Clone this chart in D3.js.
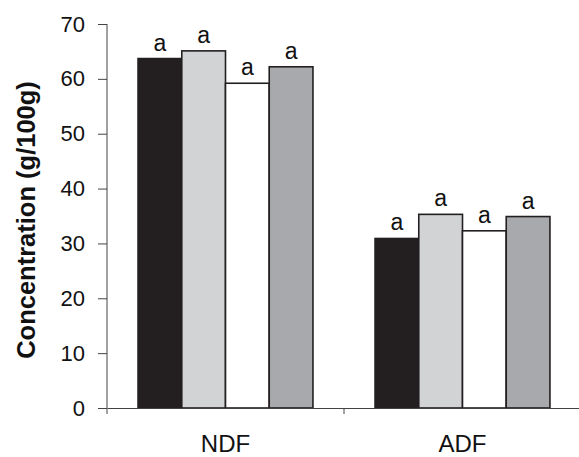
<!DOCTYPE html>
<html>
<head>
<meta charset="utf-8">
<script src="https://cdn.jsdelivr.net/npm/d3@7"></script>
<style>
  body { margin: 0; background: #fff; }
  svg { display: block; }
</style>
</head>
<body>
<div id="chart"></div>
<script>
// Data
const groups = ["NDF", "ADF"];
const treatments = ["T1", "T2", "T3", "T4"];
const ndfValues = [63.7, 65.1, 59.2, 62.2];
const adfValues = [30.9, 35.3, 32.3, 34.9];
const letters = ["a", "a", "a", "a"];
const yTicks = [0, 10, 20, 30, 40, 50, 60, 70];
const fills = ["#231f20", "#d1d3d4", "#ffffff", "#a7a9ac"];

// Configuration
const width = 579;
const height = 457;
const marginTop = 24;
const marginLeft = 107;
const plotRight = 581; // axis runs off the right edge
const baseY = 408;

const rows = groups.map((g, i) => ({
  group: g,
  values: (i === 0 ? ndfValues : adfValues).map((v, j) => ({key: treatments[j], value: v, letter: letters[j]}))
}));

const x0 = d3.scaleBand().domain(groups).range([marginLeft, plotRight]).paddingInner(0);
const x1 = d3.scaleBand().domain(treatments).range([0, x0.bandwidth()]).paddingInner(0).paddingOuter(0.71);
const y = d3.scaleLinear([0, 70], [baseY, marginTop]);
const color = d3.scaleOrdinal(treatments, fills);

const svg = d3.select("#chart").append("svg")
  .attr("width", width)
  .attr("height", height)
  .attr("viewBox", [0, 0, width, height]);

const axisColor = "#444";
const font = "Liberation Sans, Arial, sans-serif";

// Bars
const g = svg.selectAll("g.group")
  .data(rows)
  .join("g")
  .attr("class", "group")
  .attr("transform", d => `translate(${x0(d.group)},0)`);

g.selectAll("rect")
  .data(d => d.values)
  .join("rect")
  .attr("x", d => x1(d.key))
  .attr("y", d => y(d.value))
  .attr("width", x1.bandwidth())
  .attr("height", d => y(0) - y(d.value))
  .attr("fill", d => color(d.key))
  .attr("stroke", "#231f20")
  .attr("stroke-width", 1.6);

g.selectAll("text")
  .data(d => d.values)
  .join("text")
  .attr("x", d => x1(d.key) + x1.bandwidth() / 2)
  .attr("y", d => y(d.value) - 8)
  .attr("text-anchor", "middle")
  .style("font", `23px ${font}`)
  .attr("fill", "#111")
  .text(d => d.letter);

// Y axis
const yAxis = svg.append("g")
  .attr("transform", `translate(${marginLeft},0)`)
  .call(d3.axisLeft(y).tickValues(yTicks).tickSize(9).tickPadding(13).tickSizeOuter(0));
yAxis.select(".domain").remove();
yAxis.selectAll(".tick line").attr("stroke", axisColor);
yAxis.selectAll(".tick text")
  .style("font", `22px ${font}`)
  .attr("fill", "#111");
yAxis.append("line")
  .attr("x1", 0).attr("x2", 0)
  .attr("y1", y(70)).attr("y2", baseY + 6)
  .attr("stroke", axisColor);

// X axis
const xAxis = svg.append("g")
  .attr("transform", `translate(0,${baseY})`)
  .call(d3.axisBottom(x0).tickSize(0).tickPadding(27).tickSizeOuter(0));
xAxis.select(".domain").attr("stroke", axisColor);
xAxis.selectAll(".tick text")
  .style("font", `24px ${font}`)
  .attr("fill", "#111");
xAxis.selectAll("line.sep")
  .data(groups.slice(0, -1))
  .join("line")
  .attr("class", "sep")
  .attr("x1", d => x0(d) + x0.bandwidth())
  .attr("x2", d => x0(d) + x0.bandwidth())
  .attr("y1", 0).attr("y2", 6)
  .attr("stroke", axisColor);

// Y title
svg.append("text")
  .attr("transform", `translate(35,${(75 + 365) / 2}) rotate(-90)`)
  .attr("text-anchor", "middle")
  .style("font", `bold 25.5px ${font}`)
  .attr("fill", "#111")
  .text("Concentration (g/100g)");
</script>
</body>
</html>
